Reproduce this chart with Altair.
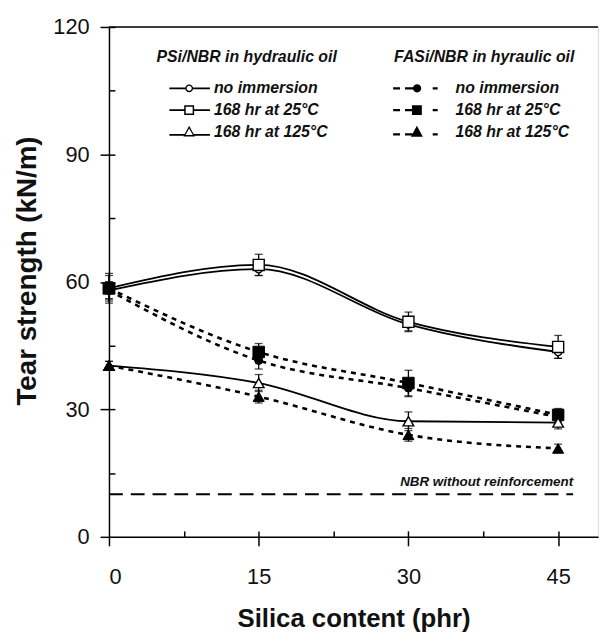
import altair as alt
import pandas as pd

# ---------------- data ----------------
silica = [0, 15, 30, 45]
conditions = ["no immersion", "168 hr at 25°C", "168 hr at 125°C"]

psi_none = [58.0, 63.0, 50.0, 43.5]
psi_25 = [58.5, 64.0, 50.6, 44.7]
psi_125 = [40.3, 36.2, 27.2, 26.9]
fasi_none = [58.0, 41.5, 35.0, 28.2]
fasi_25 = [58.5, 43.5, 36.2, 28.7]
fasi_125 = [40.3, 33.0, 24.0, 20.8]

psi_none_err = [2.0, 1.5, 1.5, 1.5]
psi_25_err = [3.5, 2.5, 2.3, 2.7]
psi_125_err = [1.0, 2.0, 2.2, 1.5]
fasi_none_err = [2.0, 2.0, 2.0, 1.5]
fasi_25_err = [3.0, 2.0, 3.0, 1.5]
fasi_125_err = [1.0, 1.5, 1.5, 1.0]

nbr_unreinforced = 10
nbr_x = [0, 46.5]

x_domain = [0, 49]
y_domain = [0, 120]
x_ticks = [0, 15, 30, 45]
x_inner_ticks = [7.5, 15, 22.5, 30, 37.5, 45]
y_ticks = [0, 30, 60, 90, 120]
y_inner_ticks = [15, 30, 45, 60, 75, 90, 105, 120]

psi_title = "PSi/NBR in hydraulic oil"
fasi_title = "FASi/NBR in hyraulic oil"
nbr_label = "NBR without reinforcement"

marker_shapes = ["circle", "square", "triangle-up"]
marker_sizes = [55, 125, 115]

# ---------------- tables ----------------
rows = []
for system, series in [
    ("PSi", [(psi_none, psi_none_err), (psi_25, psi_25_err), (psi_125, psi_125_err)]),
    ("FASi", [(fasi_none, fasi_none_err), (fasi_25, fasi_25_err), (fasi_125, fasi_125_err)]),
]:
    for cond, (vals, errs) in zip(conditions, series):
        for s, v, e in zip(silica, vals, errs):
            rows.append({"system": system, "condition": cond, "silica": s,
                         "value": v, "lo": v - e, "hi": v + e})
df = pd.DataFrame(rows)
df_psi = df[df.system == "PSi"]
df_fasi = df[df.system == "FASi"]

FONT = "Liberation Sans"
W, H = 494, 515

xs = alt.Scale(domain=x_domain, nice=False, zero=False)
ys = alt.Scale(domain=y_domain, nice=False, zero=False)


def X(field="silica"):
    return alt.X(f"{field}:Q", scale=xs, axis=None)


def Y(field="value"):
    return alt.Y(f"{field}:Q", scale=ys, axis=None)


# main axes layer (PSi lines)
psi_lines = alt.Chart(df_psi).mark_line(
    interpolate="monotone", color="black", strokeWidth=1.8
).encode(
    x=alt.X("silica:Q", scale=xs, axis=alt.Axis(
        values=x_ticks, title="Silica content (phr)", grid=False,
        tickSize=9, tickWidth=1.5, tickColor="black",
        domainColor="black", domainWidth=1.5,
        labelFontSize=22, labelColor="#111", labelPadding=21, labelFont=FONT,
        titleFontSize=26, titleFont=FONT, titleFontWeight="bold", titleColor="#111",
        titlePadding=19)),
    y=alt.Y("value:Q", scale=ys, axis=alt.Axis(
        values=y_ticks, title="Tear strength (kN/m)", grid=False,
        tickSize=9, tickWidth=1.5, tickColor="black",
        domainColor="black", domainWidth=1.5,
        labelFontSize=22, labelColor="#111", labelPadding=11, labelFont=FONT,
        titleFontSize=28, titleFont=FONT, titleFontWeight="bold", titleColor="#111",
        titlePadding=12, titleY=246)),
    detail="condition:N",
)

fasi_lines = alt.Chart(df_fasi).mark_line(
    interpolate="monotone", color="black", strokeWidth=2.6, strokeDash=[5, 5]
).encode(x=X(), y=Y(), detail="condition:N")

errbars = alt.Chart(df).mark_errorbar(
    ticks={"size": 8, "thickness": 1.3}, color="black", thickness=1.3
).encode(x=X(), y=Y("lo"), y2="hi:Q")

point_layers = []
for cond, shp, sz in zip(conditions, marker_shapes, marker_sizes):
    point_layers.append(
        alt.Chart(df_psi[df_psi.condition == cond]).mark_point(
            shape=shp, size=sz, filled=True, fill="white", stroke="black",
            strokeWidth=1.4, opacity=1
        ).encode(x=X(), y=Y())
    )
    point_layers.append(
        alt.Chart(df_fasi[df_fasi.condition == cond]).mark_point(
            shape=shp, size=sz + 10, filled=True, fill="black", stroke="black",
            strokeWidth=1, opacity=1
        ).encode(x=X(), y=Y())
    )

# NBR reference line and label
df_nbr = pd.DataFrame({"x0": [nbr_x[0]], "x1": [nbr_x[1]], "v": [nbr_unreinforced],
                       "label": [nbr_label]})
nbr_line = alt.Chart(df_nbr).mark_rule(
    color="black", strokeWidth=2, strokeDash=[14, 8]
).encode(x=X("x0"), x2="x1:Q", y=Y("v"))
nbr_text = alt.Chart(df_nbr).mark_text(
    align="right", baseline="bottom", dy=-5, font=FONT, fontSize=13.5,
    fontStyle="italic", fontWeight="bold", color="#111"
).encode(x=X("x1"), y=Y("v"), text="label:N")

# frame top line + inner ticks (axes pushed inside)
df_frame = pd.DataFrame({"x0": [x_domain[0]], "x1": [x_domain[1]], "yt": [y_domain[1]]})
frame = alt.Chart(df_frame).mark_rule(color="black", strokeWidth=1.5).encode(
    x=alt.X("x0:Q", scale=xs, axis=alt.Axis(
        orient="top", offset=-H, values=x_inner_ticks, labels=False, domain=False,
        tickSize=6, tickWidth=1.5, tickColor="black", grid=False, title=None)),
    x2="x1:Q",
    y=alt.Y("yt:Q", scale=ys, axis=alt.Axis(
        orient="right", offset=-W, values=y_inner_ticks, labels=False, domain=False,
        tickSize=6, tickWidth=1.5, tickColor="black", grid=False, title=None)),
)

# ---------------- legends: line + marker glyphs as filled SVG paths ----------------
psi_paths = [
    # solid line with open circle
    "M0.3,-0.09H1.92V0.09H0.3Z M2.68,-0.09H4.4V0.09H2.68Z "
    "M1.9,0A0.4,0.4 0 1,1 2.7,0A0.4,0.4 0 1,1 1.9,0Z "
    "M2.04,0A0.26,0.26 0 1,0 2.56,0A0.26,0.26 0 1,0 2.04,0Z",
    # solid line with open square
    "M0.3,-0.09H1.8V0.09H0.3Z M2.8,-0.09H4.4V0.09H2.8Z "
    "M1.8,-0.5H2.8V0.5H1.8Z M1.95,-0.35V0.35H2.65V-0.35Z",
    # solid line with open triangle
    "M0.3,0.21H1.85V0.39H0.3Z M2.75,0.21H4.4V0.39H2.75Z "
    "M2.3,-0.62L2.88,0.46L1.72,0.46Z M2.3,-0.35L1.93,0.32L2.67,0.32Z",
]
fasi_paths = [
    "M-1.1,-0.12H-0.4V0.12H-1.1Z M0.1,-0.12H0.95V0.12H0.1Z M2.9,-0.12H3.4V0.12H2.9Z "
    "M0.9,0A0.42,0.42 0 1,1 1.74,0A0.42,0.42 0 1,1 0.9,0Z",
    "M-1.1,-0.12H-0.4V0.12H-1.1Z M0.1,-0.12H0.85V0.12H0.1Z M2.9,-0.12H3.4V0.12H2.9Z "
    "M0.8,-0.5H1.8V0.5H0.8Z",
    "M-1.1,0.13H-0.4V0.37H-1.1Z M0.1,0.13H0.85V0.37H0.1Z M2.9,0.13H3.4V0.37H2.9Z "
    "M1.3,-0.62L1.9,0.48H0.7Z",
]


def legend_layer(field, title, paths, lx, loff):
    leg = alt.Legend(
        title=title, orient="none", legendX=lx, legendY=22, padding=0,
        symbolSize=400, symbolFillColor="black", symbolStrokeColor="black",
        symbolStrokeWidth=0, symbolOpacity=1,
        labelFont=FONT, labelFontSize=16, labelFontStyle="italic",
        labelFontWeight="bold", labelColor="#111", labelOffset=loff,
        titleFont=FONT, titleFontSize=16, titleFontStyle="italic",
        titleFontWeight="bold", titleColor="#111", titlePadding=14,
        rowPadding=4, labelLimit=300, titleLimit=400,
    )
    d = pd.DataFrame({field: conditions, "silica": silica[:3], "value": psi_none[:3]})
    return alt.Chart(d).transform_filter("false").mark_point(
        filled=True, color="black", fill="black", size=400, opacity=1
    ).encode(
        x=X(), y=Y(),
        shape=alt.Shape(f"{field}:N", scale=alt.Scale(domain=conditions, range=paths),
                        legend=leg, sort=conditions),
    )


psi_legend = legend_layer("psi_cond", psi_title, psi_paths, 48, 38)
fasi_legend = legend_layer("fasi_cond", fasi_title, fasi_paths, 288, 42)

chart = alt.layer(
    psi_lines, frame, fasi_lines, nbr_line, nbr_text, errbars,
    *point_layers, psi_legend, fasi_legend,
).resolve_scale(
    shape="independent"
).resolve_axis(
    x="independent", y="independent"
).properties(
    width=W, height=H,
    padding={"left": 5, "top": 5, "right": 5, "bottom": 0},
).configure_view(stroke=None).configure(font=FONT, background="white")

chart.save("out.html", embed_options={"renderer": "svg", "actions": False})
